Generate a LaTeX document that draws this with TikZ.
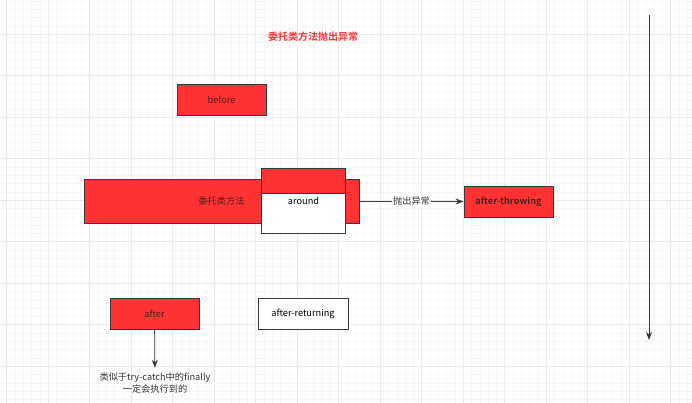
\documentclass[tikz,border=0pt]{standalone}
\usepackage{fontspec}
\usepackage{tikz}
\usepackage{xcolor}
\usetikzlibrary{shapes, positioning, arrows.meta}
\setmainfont{Noto Sans CJK SC}[BoldFont={Noto Sans CJK SC Bold}]

\definecolor{boxred}{HTML}{FF3333}
\definecolor{boxline}{HTML}{36393D}
\definecolor{boxtext}{HTML}{4D1F1F}
\definecolor{gridminor}{HTML}{F6F6F6}
\definecolor{gridmajor}{HTML}{EBEBEB}

\tikzset{
    txt/.style={font=\fontsize{9.2}{11.5}\selectfont},
    redbox/.style={rectangle, draw=boxline, thick, fill=boxred, inner sep=0pt, txt, text=boxtext},
    whitebox/.style={rectangle, draw=boxline, thick, fill=white, inner sep=0pt, txt, text=black},
    flow/.style={draw=boxline, thick, -{Stealth[length=8pt, width=6pt]}}
}

\begin{document}
\begin{tikzpicture}[x=1pt, y=-1pt]
        \useasboundingbox (0, 0) rectangle (692, 403);
        \fill[white] (0, 0) rectangle (692, 403);
        \foreach \i in {0,...,83} {
            \draw[gridminor, line width=0.5pt] (6.7 + 8.3*\i, 0) -- (6.7 + 8.3*\i, 403);
        }
        \foreach \i in {0,...,49} {
            \draw[gridminor, line width=0.5pt] (0, 1 + 8.3*\i) -- (692, 1 + 8.3*\i);
        }
        \foreach \i in {0,...,16} {
            \draw[gridmajor, line width=0.5pt] (6.7 + 41.5*\i, 0) -- (6.7 + 41.5*\i, 403);
        }
        \foreach \i in {0,...,9} {
            \draw[gridmajor, line width=0.5pt] (0, 34 + 41.5*\i) -- (692, 34 + 41.5*\i);
        }

        \node[text=boxred, font=\fontsize{10}{12}\selectfont\bfseries] (title) at (313, 37) {委托类方法抛出异常};

        \node[redbox, minimum width=89, minimum height=31] (before) at (221.5, 99.5) {before};

        \node[redbox, minimum width=275, minimum height=44] (method) at (221.5, 201) {委托类方法};
        \node[redbox, minimum width=84, minimum height=25] (aroundtop) at (303.5, 180.5) {};
        \node[whitebox, minimum width=84, minimum height=40, label={[txt, yshift=12]center:around}] (around) at (303.5, 213) {};

        \node[redbox, text=boxtext, font=\fontsize{9.2}{11.5}\selectfont\bfseries, minimum width=89, minimum height=31] (throwing) at (508.5, 201.5) {after-throwing};

        \node[redbox, minimum width=89, minimum height=31] (after) at (154.5, 313.5) {after};
        \node[whitebox, minimum width=90, minimum height=31] (returning) at (303, 313.5) {after-returning};
        \node[txt, align=center, text=black!80, inner sep=5pt] (note) at (155, 383) {类似于try-catch中的finally\\一定会执行到的};

        \coordinate (top) at (649, 15);
        \coordinate (bottom) at (649, 340);

        \draw[flow] (method.east |- throwing.west) to node[txt, fill=white, inner sep=1pt, text=black!80] (thrown) {抛出异常} (throwing.west);
        \draw[flow] (after) to (note);
        \draw[flow] (top) to (bottom);
    \end{tikzpicture}
\end{document}
